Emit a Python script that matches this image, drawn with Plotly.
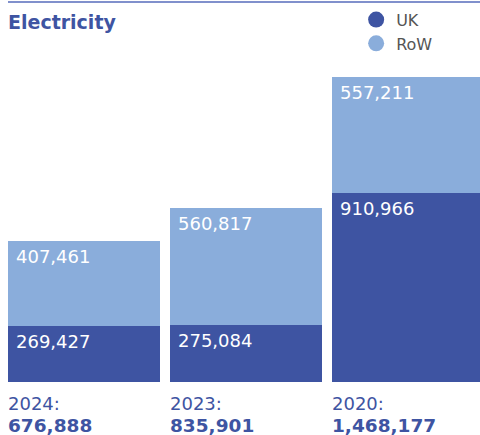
import plotly.graph_objects as go

years = ["2024", "2023", "2020"]
uk = [269427, 275084, 910966]
row = [407461, 560817, 557211]
totals = [676888, 835901, 1468177]

UK_C = "#3e54a2"
ROW_C = "#8aaddb"
TXT_C = "#3e54a2"
NUM_FONT = "DejaVu Sans"

fig = go.Figure()
fig.add_bar(x=years, y=uk, marker=dict(color=UK_C, line=dict(width=0)), showlegend=False, hoverinfo="skip")
fig.add_bar(x=years, y=row, marker=dict(color=ROW_C, line=dict(width=0)), showlegend=False, hoverinfo="skip")
fig.add_scatter(x=[None], y=[None], mode="markers", name="UK",
                marker=dict(size=17, color=UK_C, symbol="circle"))
fig.add_scatter(x=[None], y=[None], mode="markers", name="RoW",
                marker=dict(size=17, color=ROW_C, symbol="circle"))

LIGHT = dict(family=NUM_FONT, size=18)
ann = []
for i, yr in enumerate(years):
    ann.append(dict(x=i, y=uk[i], xref="x", yref="y", text=f"{uk[i]:,}",
                    xanchor="left", yanchor="top", xshift=-70, yshift=-3,
                    showarrow=False, font=dict(LIGHT, color="white")))
    ann.append(dict(x=i, y=uk[i] + row[i], xref="x", yref="y", text=f"{row[i]:,}",
                    xanchor="left", yanchor="top", xshift=-70, yshift=-3,
                    showarrow=False, font=dict(LIGHT, color="white")))
    ann.append(dict(x=i, y=-0.057, xref="x", yref="paper", text=f"{yr}:",
                    xanchor="left", yanchor="middle", xshift=-78,
                    showarrow=False, font=dict(LIGHT, color=TXT_C)))
    ann.append(dict(x=i, y=-0.1126, xref="x", yref="paper", text=f"<b>{totals[i]:,}</b>",
                    xanchor="left", yanchor="middle", xshift=-78,
                    showarrow=False, font=dict(family=NUM_FONT, size=18.5, color=TXT_C)))

ann.append(dict(x=0.0125, y=1 - 22 / 382, xref="paper", yref="paper", text="<b>Electricity</b>",
                xanchor="left", yanchor="middle", showarrow=False,
                font=dict(family="DejaVu Sans", size=19, color=TXT_C)))

fig.update_layout(
    width=480, height=435,
    margin=dict(l=0, r=0, t=0, b=53),
    barmode="stack", bargap=0.0617,
    plot_bgcolor="white", paper_bgcolor="white",
    xaxis=dict(type="category", range=[-0.5185, 2.444], visible=False, fixedrange=True),
    yaxis=dict(range=[0, 1837000], visible=False, fixedrange=True),
    showlegend=True,
    legend=dict(x=0.742, y=0.993, xanchor="left", yanchor="top", bgcolor="rgba(0,0,0,0)",
                font=dict(family="DejaVu Sans", size=16, color="#555555"), itemwidth=30,
                tracegroupgap=0, traceorder="normal"),
    annotations=ann,
    shapes=[dict(type="line", xref="paper", yref="paper", x0=8 / 480, x1=1,
                 y0=1 - 2 / 382, y1=1 - 2 / 382, line=dict(color="#8090cc", width=2))],
)

fig.write_html("out.html", config={"displayModeBar": False},
               post_script="document.body.style.margin='0';document.body.style.overflow='hidden';")
